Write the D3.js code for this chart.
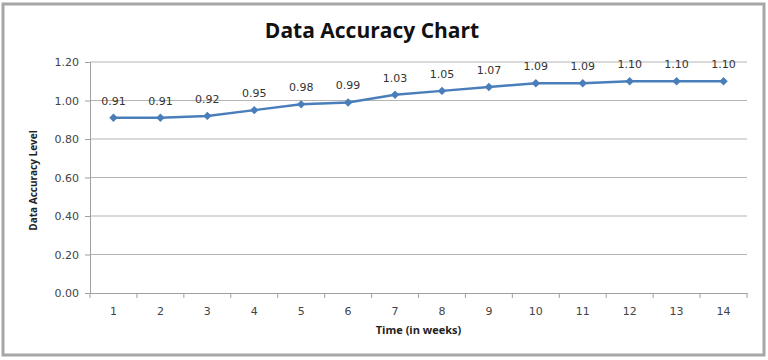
<!DOCTYPE html>
<html><head><meta charset="utf-8">
<script src="https://cdn.jsdelivr.net/npm/d3@7"></script>
<style>body{margin:0;background:#fff;}svg{display:block;}</style>
</head><body>
<svg id="c" width="768" height="360"></svg>
<script>
const weeks = ["1","2","3","4","5","6","7","8","9","10","11","12","13","14"];
const accuracy = [0.91,0.91,0.92,0.95,0.98,0.99,1.03,1.05,1.07,1.09,1.09,1.10,1.10,1.10];
const yTicks = [0,0.2,0.4,0.6,0.8,1.0,1.2];
const title = "Data Accuracy Chart";
const xTitle = "Time (in weeks)";
const yTitle = "Data Accuracy Level";

const svg = d3.select("#c");
svg.append("rect").attr("x",3).attr("y",4).attr("width",761).attr("height",351)
  .attr("fill","#fff").attr("stroke","#a6a6a6").attr("stroke-width",3);

const m = {l:90, r:747, t:62, b:293};
const x = d3.scaleBand().domain(weeks).range([m.l, m.r]);
const y = d3.scaleLinear().domain([0,1.2]).range([m.b, m.t]);

// gridlines
svg.append("g").selectAll("line").data(yTicks.slice(1)).join("line")
  .attr("x1",m.l).attr("x2",m.r).attr("y1",d=>y(d)).attr("y2",d=>y(d))
  .attr("stroke","#b4b4b4").attr("stroke-width",1);

// y axis
const ya = svg.append("g").attr("transform",`translate(${m.l},0)`)
  .call(d3.axisLeft(y).tickValues(yTicks).tickFormat(d3.format(".2f")).tickSize(5).tickPadding(6));
ya.select(".domain").attr("stroke","#a0a0a0");
ya.selectAll(".tick line").attr("stroke","#a0a0a0");
ya.selectAll("text").attr("font-family","Verdana, 'DejaVu Sans', sans-serif").attr("font-size",11).attr("fill","#444");

// x axis
const xa = svg.append("g").attr("transform",`translate(0,${m.b})`)
  .call(d3.axisBottom(x).tickSize(0).tickPadding(14));
xa.select(".domain").attr("stroke","#a0a0a0");
xa.selectAll("text").attr("font-family","Verdana, 'DejaVu Sans', sans-serif").attr("font-size",11).attr("fill","#444");
// tick marks between categories
const bounds = weeks.map(w=>x(w)).concat([m.r]);
svg.append("g").selectAll("line").data(bounds).join("line")
  .attr("x1",d=>d).attr("x2",d=>d).attr("y1",m.b).attr("y2",m.b+5)
  .attr("stroke","#a0a0a0");

// line
const cx = d => x(d) + x.bandwidth()/2;
svg.append("path").datum(accuracy)
  .attr("fill","none").attr("stroke","#4a7ebb").attr("stroke-width",2.5)
  .attr("d", d3.line().x((d,i)=>cx(weeks[i])).y(d=>y(d)));
svg.append("g").selectAll("path").data(accuracy).join("path")
  .attr("d", d3.symbol().type(d3.symbolDiamond2).size(45))
  .attr("transform",(d,i)=>`translate(${cx(weeks[i])},${y(d)})`)
  .attr("fill","#4a7ebb");

// data labels
svg.append("g").selectAll("text").data(accuracy).join("text")
  .attr("x",(d,i)=>cx(weeks[i])).attr("y",d=>y(d)-13)
  .attr("text-anchor","middle")
  .attr("font-family","Verdana, 'DejaVu Sans', sans-serif").attr("font-size",11).attr("fill","#333")
  .text(d=>d.toFixed(2));

// titles
svg.append("text").attr("x",372).attr("y",38).attr("text-anchor","middle")
  .attr("font-family","'Open Sans', Calibri, sans-serif").attr("font-weight","bold").attr("font-size",21).attr("fill","#111")
  .text(title);
svg.append("text").attr("x",(m.l+m.r)/2).attr("y",334).attr("text-anchor","middle")
  .attr("font-family","'Open Sans', Calibri, sans-serif").attr("font-weight","bold").attr("font-size",11).attr("fill","#222")
  .text(xTitle);
svg.append("text").attr("transform",`translate(37,${(m.t+m.b)/2+3}) rotate(-90)`).attr("text-anchor","middle")
  .attr("font-family","'Open Sans', Calibri, sans-serif").attr("font-weight","bold").attr("font-size",10).attr("fill","#222")
  .text(yTitle);
</script>
</body></html>
